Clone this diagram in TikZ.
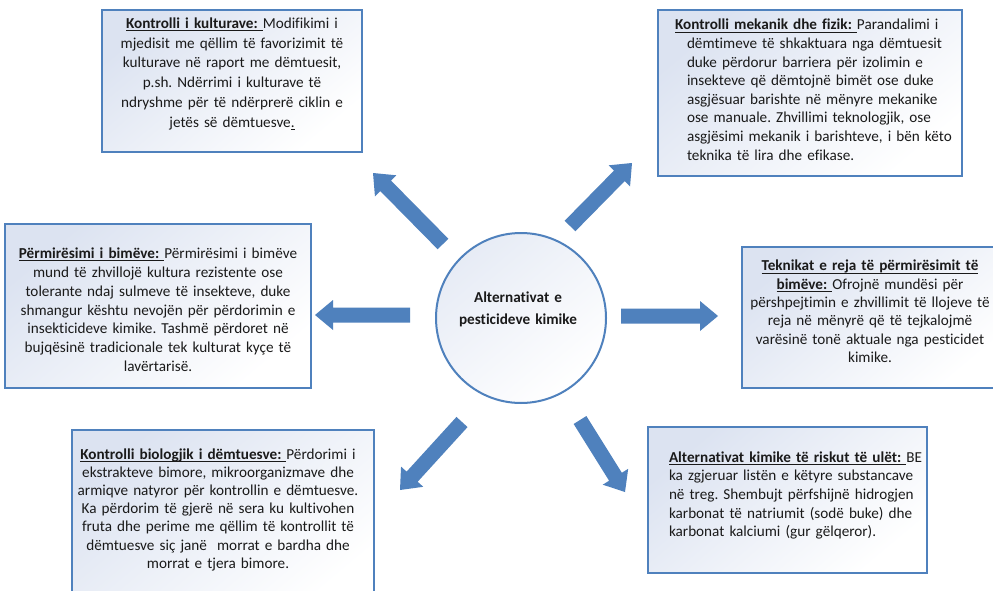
\documentclass[tikz,border=0pt]{standalone}
\usepackage{fontspec}
\setmainfont{Carlito}[Ligatures=NoCommon]
\usetikzlibrary{calc}
\frenchspacing
\newsavebox\myulbox
\newcommand\myul[1]{\leavevmode\sbox\myulbox{#1}\rlap{\rule[-2.7pt]{\wd\myulbox}{0.9pt}}\usebox\myulbox}
\definecolor{ablue}{HTML}{4F81BD}
\definecolor{bfill}{HTML}{DCE3F1}
\definecolor{txtc}{HTML}{1A1A1A}
\tikzset{
  panel/.style={draw=ablue, line width=1.4pt, top color=bfill, bottom color=white,
    shading angle=40, inner sep=0pt, outer sep=0pt, anchor=north west, rectangle},
  txt/.style={inner sep=0pt, outer sep=0pt, text=txtc, text width=360pt, align=center, anchor=base},
  ltxt/.style={txt, align=left, anchor=base west},
  blockarrow/.style={to path={
    let \p3=($(\tikztotarget)!18pt!(\tikztostart)$) in
    ($(\tikztostart)!7.5pt!90:(\tikztotarget)$) --
    ($(\p3)!7.5pt!90:(\tikztotarget)$) --
    ($(\p3)!15pt!90:(\tikztotarget)$) --
    (\tikztotarget) --
    ($(\p3)!15pt!-90:(\tikztotarget)$) --
    ($(\p3)!7.5pt!-90:(\tikztotarget)$) --
    ($(\tikztostart)!7.5pt!-90:(\tikztotarget)$) -- cycle}},
  barrow/.style={fill=ablue, draw=none}
}
\begin{document}
\begin{tikzpicture}[x=1pt,y=-1pt]
\useasboundingbox (0,0) rectangle (993,591);
\clip (0,0) rectangle (993,591);
\fill[white] (0,0) rectangle (993,591);

% boxes
\node[panel, minimum width=260pt, minimum height=142pt] (b1) at (102,10) {};
\node[panel, minimum width=304pt, minimum height=166pt] (b2) at (658,10) {};
\node[panel, minimum width=306pt, minimum height=164pt] (b3) at (5,224) {};
\node[panel, minimum width=260pt, minimum height=141pt] (b4) at (742,247) {};
\node[panel, minimum width=302pt, minimum height=180pt] (b5) at (72,430) {};
\node[panel, minimum width=279pt, minimum height=146pt] (b6) at (648,427) {};

% centre circle
\node[circle, draw=ablue, line width=2pt, top color=bfill!70, bottom color=white,
      shading angle=40, minimum size=170pt, inner sep=0pt] (c) at (521,318) {};
\node[txt, font=\bfseries\fontsize{15.2}{21.3}\selectfont] (ct) at (518,302.7)
  {Alternativat e\\pesticideve kimike};

% texts
\node[txt, font=\fontsize{15.2}{19.8}\selectfont] (t1) at (232,28.3) {%
\myul{\textbf{Kontrolli i kulturave:}\ }Modifikimi i\\
mjedisit me qëllim të favorizimit të\\
kulturave në raport me dëmtuesit,\\
p.sh. Ndërrimi i kulturave të\\
ndryshme për të ndërprerë ciklin e\\
jetës së dëmtuesve\myul{.}};

\node[ltxt, font=\fontsize{15.2}{18.6}\selectfont] (t2) at (675,30) {%
\myul{\textbf{Kontrolli mekanik dhe fizik:}\ }Parandalimi i\\
\hspace*{12pt}dëmtimeve të shkaktuara nga dëmtuesit\\
\hspace*{12pt}duke përdorur barriera për izolimin e\\
\hspace*{12pt}insekteve që dëmtojnë bimët ose duke\\
\hspace*{12pt}asgjësuar barishte në mënyre mekanike\\
\hspace*{12pt}ose manuale. Zhvillimi teknologjik, ose\\
\hspace*{12pt}asgjësimi mekanik i barishteve, i bën këto\\
\hspace*{12pt}teknika të lira dhe efikase.};

\node[txt, font=\fontsize{15.2}{18.9}\selectfont] (t3) at (158,258.3) {%
\myul{\textbf{Përmirësimi i bimëve:}\ }Përmirësimi i bimëve\\
mund të zhvillojë kultura rezistente ose\\
tolerante ndaj sulmeve të insekteve, duke\\
shmangur kështu nevojën për përdorimin e\\
insekticideve kimike. Tashmë përdoret në\\
bujqësinë tradicionale tek kulturat kyçe të\\
lavërtarisë.};

\node[txt, font=\fontsize{15.2}{18.4}\selectfont] (t4) at (870,270.7) {%
\myul{\textbf{Teknikat e reja të përmirësimit të}}\\
\myul{\textbf{bimëve:}\ }Ofrojnë mundësi për\\
përshpejtimin e zhvillimit të llojeve të\\
reja në mënyrë që të tejkalojmë\\
varësinë tonë aktuale nga pesticidet\\
kimike.};

\node[txt, font=\fontsize{15.2}{18.2}\selectfont] (t5) at (218,459) {%
\myul{\textbf{Kontrolli biologjik i dëmtuesve:}\ }Përdorimi i\\
ekstrakteve bimore, mikroorganizmave dhe\\
armiqve natyror për kontrollin e dëmtuesve.\\
Ka përdorim të gjerë në sera ku kultivohen\\
fruta dhe perime me qëllim të kontrollit të\\
dëmtuesve siç janë~ morrat e bardha dhe\\
morrat e tjera bimore.};

\node[ltxt, font=\fontsize{15.2}{18.6}\selectfont] (t6) at (669,462.3) {%
\myul{\textbf{Alternativat kimike të riskut të ulët:}\ }BE\\
ka zgjeruar listën e këtyre substancave\\
në treg. Shembujt përfshijnë hidrogjen\\
karbonat të natriumit (sodë buke) dhe\\
karbonat kalciumi (gur gëlqeror).};

% arrow ends
\coordinate (a1s) at (443,244); \coordinate (a1e) at (373,173);
\coordinate (a2s) at (570,226); \coordinate (a2e) at (632,163);
\coordinate (a3s) at (410,315); \coordinate (a3e) at (315,315);
\coordinate (a4s) at (621,316); \coordinate (a4e) at (718,316);
\coordinate (a5s) at (462,422); \coordinate (a5e) at (400,490);
\coordinate (a6s) at (580,420); \coordinate (a6e) at (625,492);

\foreach \i in {1,...,6}{
  \path[barrow] (a\i s) to[blockarrow] (a\i e);
}
\end{tikzpicture}
\end{document}
